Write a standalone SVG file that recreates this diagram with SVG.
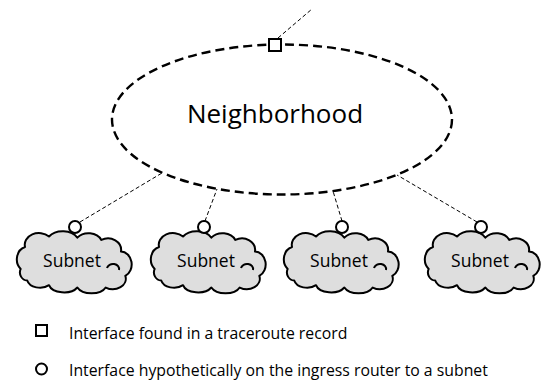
<svg xmlns="http://www.w3.org/2000/svg" width="553" height="385" viewBox="0 0 553 385">
<style>
.hood{fill:none;stroke:#000;stroke-width:2.4;stroke-dasharray:9 5}
.conn{fill:none;stroke:#000;stroke-width:1;stroke-dasharray:4 2.5}
.cloud{fill:#dedede;stroke:#000;stroke-width:2;stroke-linejoin:round}
.curl{fill:none;stroke:#000;stroke-width:2}
.port{fill:#fff;stroke:#000;stroke-width:2}
.t{font-family:"Open Sans","Liberation Sans",sans-serif;fill:#000}
</style>
<defs>
<path id="cloudShape" vector-effect="non-scaling-stroke" d="M -48,6 A 10,11 0 0 1 -44,-13 A 13,10 0 0 1 -22,-22 A 15,10 0 0 1 4,-21 A 13,10 0 0 1 26,-19 A 12,10 0 0 1 44,-9 A 10,11 0 0 1 48,12 A 12,9 0 0 1 30,22 A 14,8 0 0 1 4,22 A 14,8 0 0 1 -22,20 A 12,8 0 0 1 -42,16 A 7,7 0 0 1 -48,6 Z"/>
</defs>
<g id="connectors">
<line class="conn" x1="278" y1="38" x2="312" y2="9"/>
<line class="conn" x1="80" y1="222" x2="162" y2="173"/>
<line class="conn" x1="205" y1="221" x2="217" y2="189"/>
<line class="conn" x1="342" y1="221" x2="333" y2="191"/>
<line class="conn" x1="477" y1="222" x2="397" y2="175"/>
</g>
<g id="neighborhood">
<ellipse class="hood" cx="282" cy="119.5" rx="170" ry="75"/>
<text class="t" x="275" y="123" font-size="26" text-anchor="middle">Neighborhood</text>
<rect class="port" x="269" y="39" width="12" height="12"/>
</g>
<g id="subnet1" transform="translate(73,262)">
<use href="#cloudShape" class="cloud" transform="scale(1.09,1.16)"/>
<path class="curl" d="M 34,6 A 6,5 0 0 1 46,8"/>
<text class="t" x="-1" y="5" font-size="17.5" text-anchor="middle">Subnet</text>
<circle class="port" cx="2" cy="-35" r="6"/>
</g>
<g id="subnet2" transform="translate(207,262)">
<use href="#cloudShape" class="cloud" transform="scale(1.09,1.16)"/>
<path class="curl" d="M 34,6 A 6,5 0 0 1 46,8"/>
<text class="t" x="-1" y="5" font-size="17.5" text-anchor="middle">Subnet</text>
<circle class="port" cx="-3" cy="-35" r="6"/>
</g>
<g id="subnet3" transform="translate(340,262)">
<use href="#cloudShape" class="cloud" transform="scale(1.09,1.16)"/>
<path class="curl" d="M 34,6 A 6,5 0 0 1 46,8"/>
<text class="t" x="-1" y="5" font-size="17.5" text-anchor="middle">Subnet</text>
<circle class="port" cx="2" cy="-35" r="6"/>
</g>
<g id="subnet4" transform="translate(481,262)">
<use href="#cloudShape" class="cloud" transform="scale(1.09,1.16)"/>
<path class="curl" d="M 34,6 A 6,5 0 0 1 46,8"/>
<text class="t" x="-1" y="5" font-size="17.5" text-anchor="middle">Subnet</text>
<circle class="port" cx="0" cy="-35" r="6"/>
</g>
<g id="legend">
<rect class="port" x="36" y="325" width="11" height="11"/>
<text class="t" x="69" y="339" font-size="15.8">Interface found in a traceroute record</text>
<circle class="port" cx="41.5" cy="369" r="5.5"/>
<text class="t" x="69" y="376" font-size="15.8">Interface hypothetically on the ingress router to a subnet</text>
</g>
</svg>
